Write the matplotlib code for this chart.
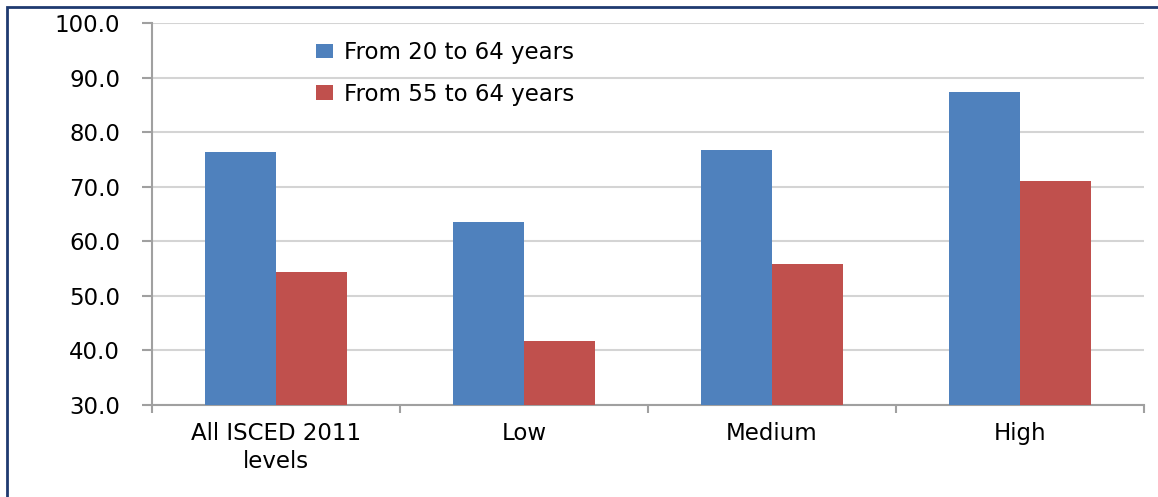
import matplotlib.pyplot as plt
import numpy as np
from matplotlib.patches import Rectangle

categories = ["All ISCED 2011\nlevels", "Low", "Medium", "High"]
series_names = ["From 20 to 64 years", "From 55 to 64 years"]
age_20_64 = [76.4, 63.6, 76.7, 87.4]
age_55_64 = [54.3, 41.7, 55.9, 71.1]
y_ticks = [30, 40, 50, 60, 70, 80, 90, 100]

blue = "#4F81BD"
red = "#C0504D"
grid_col = "#D4D4D4"
spine_col = "#A0A0A0"
fs = 16.5

fig = plt.figure(figsize=(11.58, 4.97), dpi=100)
ax = fig.add_axes([152 / 1158, 92 / 497, 992 / 1158, 382 / 497])

x = np.arange(len(categories))
w = 0.287
ax.bar(x - w / 2, np.array(age_20_64) - 30, w, bottom=30, color=blue,
       label=series_names[0], zorder=3)
ax.bar(x + w / 2, np.array(age_55_64) - 30, w, bottom=30, color=red,
       label=series_names[1], zorder=3)

ax.set_xlim(-0.5, len(categories) - 0.5)
ax.set_ylim(30, 100)
ax.set_yticks(y_ticks)
ax.set_yticklabels([f"{v:.1f}" for v in y_ticks], fontsize=fs)
ax.yaxis.grid(True, color=grid_col, linewidth=1.5, zorder=0)
ax.set_axisbelow(True)

# boundary ticks (major) and centred category labels (minor)
ax.set_xticks(np.arange(len(categories) + 1) - 0.5)
ax.set_xticklabels([])
ax.set_xticks(x, minor=True)
ax.set_xticklabels(categories, minor=True, fontsize=fs, linespacing=1.3)
ax.tick_params(axis="x", which="minor", length=0, pad=12)
ax.tick_params(axis="x", which="major", length=6, width=1.5, color=spine_col,
               direction="out")
ax.tick_params(axis="y", length=7, width=1.5, color=spine_col, pad=16)

for side in ["top", "right"]:
    ax.spines[side].set_visible(False)
for side in ["left", "bottom"]:
    ax.spines[side].set_color(spine_col)
    ax.spines[side].set_linewidth(1.5)

ax.legend(loc="upper left", bbox_to_anchor=(0.154, 0.982), frameon=False,
          fontsize=fs, handlelength=0.75, handleheight=0.58,
          handletextpad=0.45, labelspacing=0.8, borderpad=0)

# outer frame (only top and left edges visible)
fig.patches.append(Rectangle((7 / 1158, -1), 2, 1 + 490 / 497,
                             transform=fig.transFigure, fill=False,
                             edgecolor="#1F3A70", linewidth=2))

fig.savefig("out.png", dpi=100)
